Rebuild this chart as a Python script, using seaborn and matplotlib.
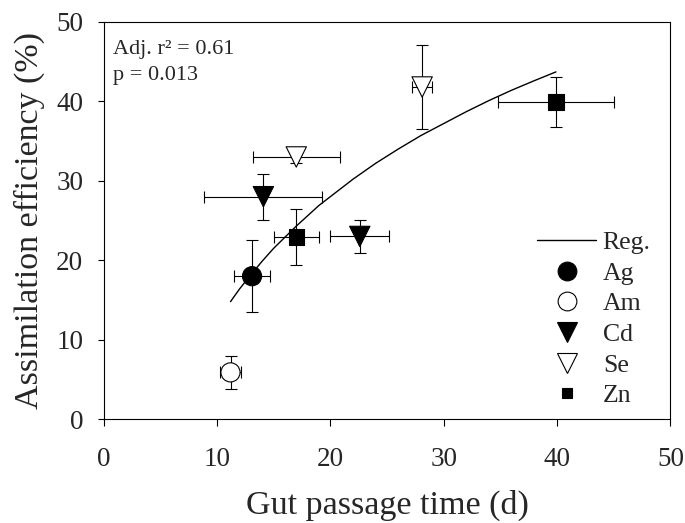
import pandas as pd
import seaborn as sns
import matplotlib.pyplot as plt
from matplotlib.lines import Line2D

# data
metal = ['Ag', 'Am', 'Cd', 'Cd', 'Se', 'Se', 'Zn', 'Zn']
gut_time = [13.1, 11.2, 14.1, 22.6, 17.0, 28.1, 17.0, 39.9]
gut_time_err = [1.6, 0.95, 5.2, 2.6, 3.85, 0.9, 2.0, 5.1]
assim_eff = [18.0, 5.9, 28.0, 23.0, 33.0, 41.8, 22.9, 39.9]
assim_eff_err = [4.55, 2.1, 2.9, 2.05, 0.8, 5.3, 3.55, 3.15]

# regression curve, points
reg_x = [11.2, 12, 13, 14, 15, 16, 17, 18, 19, 20, 22, 24, 26, 28, 30, 32, 34, 36, 38, 39.9]
reg_y = [14.8, 16.4, 18.2, 19.9, 21.5, 22.9, 24.3, 25.6, 26.9, 28.0, 30.2, 32.2, 34.0,
         35.7, 37.2, 38.7, 40.1, 41.4, 42.6, 43.7]

metals = ['Ag', 'Am', 'Cd', 'Se', 'Zn']
markers = {'Ag': 'o', 'Am': 'o', 'Cd': 'v', 'Se': 'v', 'Zn': 's'}
fills = {'Ag': 'black', 'Am': 'white', 'Cd': 'black', 'Se': 'white', 'Zn': 'black'}
sizes = {'Ag': 190, 'Am': 190, 'Cd': 215, 'Se': 215, 'Zn': 125}

df = pd.DataFrame({'metal': metal, 'gut_time': gut_time, 'assim_eff': assim_eff})

sns.set_theme(style='ticks')
plt.rcParams['font.family'] = ['Liberation Serif', 'DejaVu Serif']

fig = plt.figure(figsize=(6.85, 5.23), dpi=100)
ax = fig.add_axes([0.1511, 0.1983, 0.8277, 0.76])

ax.errorbar(gut_time, assim_eff, xerr=gut_time_err, yerr=assim_eff_err, fmt='none',
            ecolor='black', elinewidth=0.8, capsize=4, capthick=0.8, zorder=2)

sns.lineplot(x=reg_x, y=reg_y, color='black', linewidth=1.0, ax=ax, zorder=2.5)

sns.scatterplot(data=df, x='gut_time', y='assim_eff', hue='metal', style='metal',
                size='metal', markers=markers, palette=fills, sizes=sizes,
                hue_order=metals, style_order=metals, size_order=metals,
                edgecolor='black', linewidth=0.8, legend=False, ax=ax, zorder=3)

ax.set_xlim(0, 50)
ax.set_ylim(0, 50)
ax.set_xticks([0, 10, 20, 30, 40, 50])
ax.set_yticks([0, 10, 20, 30, 40, 50])
ax.tick_params(direction='out', width=0.8, labelsize=19.5, color='black')
ax.tick_params(axis='x', length=5, pad=15)
ax.tick_params(axis='y', length=4, pad=10.5)
for sp in ax.spines.values():
    sp.set_linewidth(0.8)
    sp.set_color('black')

ax.set_xlabel('Gut passage time (d)', fontsize=24.5, labelpad=13)
ax.set_ylabel('Assimilation efficiency (%)', fontsize=24.5, labelpad=8)

ax.text(0.85, 45.9, 'Adj. r² = 0.61', fontsize=16, va='baseline')
ax.text(0.85, 42.7, 'p = 0.013', fontsize=16, va='baseline')

handles = [Line2D([], [], color='black', lw=1.0, label='Reg.')]
leg_ms = {'Ag': 13.5, 'Am': 13.5, 'Cd': 14, 'Se': 14, 'Zn': 7.5}
for m in metals:
    handles.append(Line2D([], [], ls='none', marker=markers[m], mfc=fills[m], mec='black',
                          mew=0.8, ms=leg_ms[m], label=m))
ax.legend(handles=handles, loc='lower left', bbox_to_anchor=(0.765, 0.03), frameon=False,
          fontsize=18.5, handlelength=2.3, handletextpad=0.25, labelspacing=0.3,
          borderpad=0, borderaxespad=0)

fig.savefig('out.png', dpi=100)
